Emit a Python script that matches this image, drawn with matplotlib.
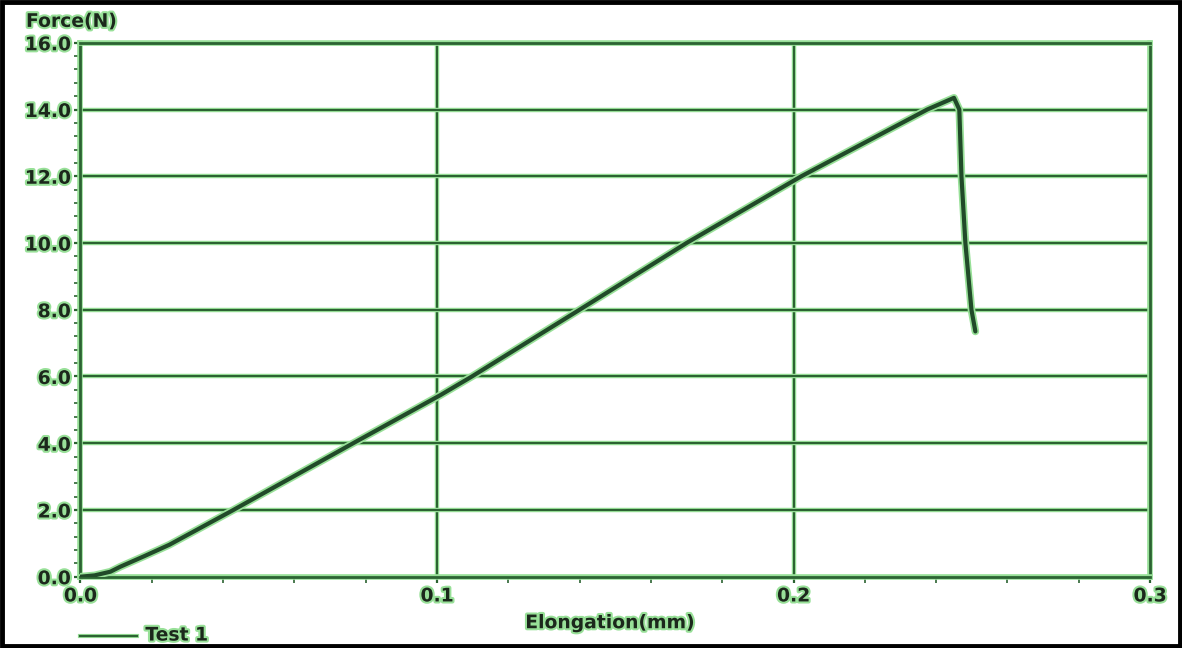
import matplotlib.pyplot as plt
import matplotlib.patheffects as pe
from matplotlib.patches import Rectangle
import numpy as np

# Force-elongation curve
elongation_mm = [0.0, 0.004, 0.0084, 0.0112, 0.018, 0.025, 0.0429, 0.0765,
                 0.1011, 0.1098, 0.140, 0.170, 0.2022, 0.2375, 0.245,
                 0.2465, 0.2471, 0.2482, 0.2499, 0.251]
force_n = [0.0, 0.04, 0.15, 0.3, 0.62, 0.96, 2.0, 4.0,
           5.45, 6.0, 8.0, 10.0, 12.0, 14.0, 14.35,
           14.0, 12.0, 10.0, 8.0, 7.35]

x_ticks = [0.0, 0.1, 0.2, 0.3]
x_labels = ['0.0', '0.1', '0.2', '0.3']
y_ticks = [0, 2, 4, 6, 8, 10, 12, 14, 16]
y_labels = ['0.0', '2.0', '4.0', '6.0', '8.0', '10.0', '12.0', '14.0', '16.0']

dark = '#2c6332'
curve_col = '#214a29'
halo = '#98e098'
txt = '#1c281c'
font = ['DejaVu Sans']
fs = 13.5
glow = [pe.withStroke(linewidth=3, foreground=halo)]

fig = plt.figure(figsize=(11.82, 6.48), dpi=100)
ax = fig.add_axes([0.068, 0.11, 0.905, 0.824])

ax.plot(elongation_mm, force_n, color=curve_col, linewidth=3,
        solid_capstyle='round', solid_joinstyle='round', zorder=3,
        path_effects=[pe.withStroke(linewidth=5.5, foreground=halo)])

ax.set_xlim(0, 0.3)
ax.set_ylim(0, 16)
ax.set_xticks(x_ticks)
ax.set_xticklabels(x_labels)
ax.set_yticks(y_ticks)
ax.set_yticklabels(y_labels)
ax.set_xticks(np.arange(0, 0.3001, 0.02), minor=True)
ax.set_yticks(np.arange(0, 16.001, 0.4), minor=True)

ax.grid(True, which='major', color=dark, linewidth=1.5,
        path_effects=[pe.withStroke(linewidth=3.2, foreground=halo)])
for s in ax.spines.values():
    s.set_color(dark)
    s.set_linewidth(2)
    s.set_path_effects([pe.withStroke(linewidth=4, foreground=halo)])

ax.tick_params(which='major', direction='out', length=4, width=1.6,
               color=dark, pad=3)
ax.tick_params(which='minor', direction='out', length=4, width=1.2, color=dark)
for lab in ax.get_xticklabels() + ax.get_yticklabels():
    lab.set_family(font)
    lab.set_fontsize(fs)
    lab.set_fontweight('bold')
    lab.set_color(txt)
    lab.set_path_effects(glow)

fig.text(0.022, 0.967, 'Force(N)', fontsize=fs, color=txt, family=font,
         weight='bold', ha='left', va='center', path_effects=glow)
fig.text(0.516, 0.039, 'Elongation(mm)', fontsize=fs, color=txt, family=font,
         weight='bold', ha='center', va='center', path_effects=glow)

# legend drawn like the instrument printout
fig.add_artist(plt.Line2D([0.068, 0.116], [0.019, 0.019], color=dark,
                          linewidth=1.6,
                          path_effects=[pe.withStroke(linewidth=3, foreground=halo)]))
fig.text(0.123, 0.020, 'Test 1', fontsize=fs, color=txt, family=font,
         weight='bold', ha='left', va='center', path_effects=glow)

fig.patches.append(Rectangle((0.002, 0.003), 0.996, 0.994, transform=fig.transFigure,
                             fill=False, edgecolor='black', linewidth=3.5))

fig.savefig('out.png', dpi=100)
